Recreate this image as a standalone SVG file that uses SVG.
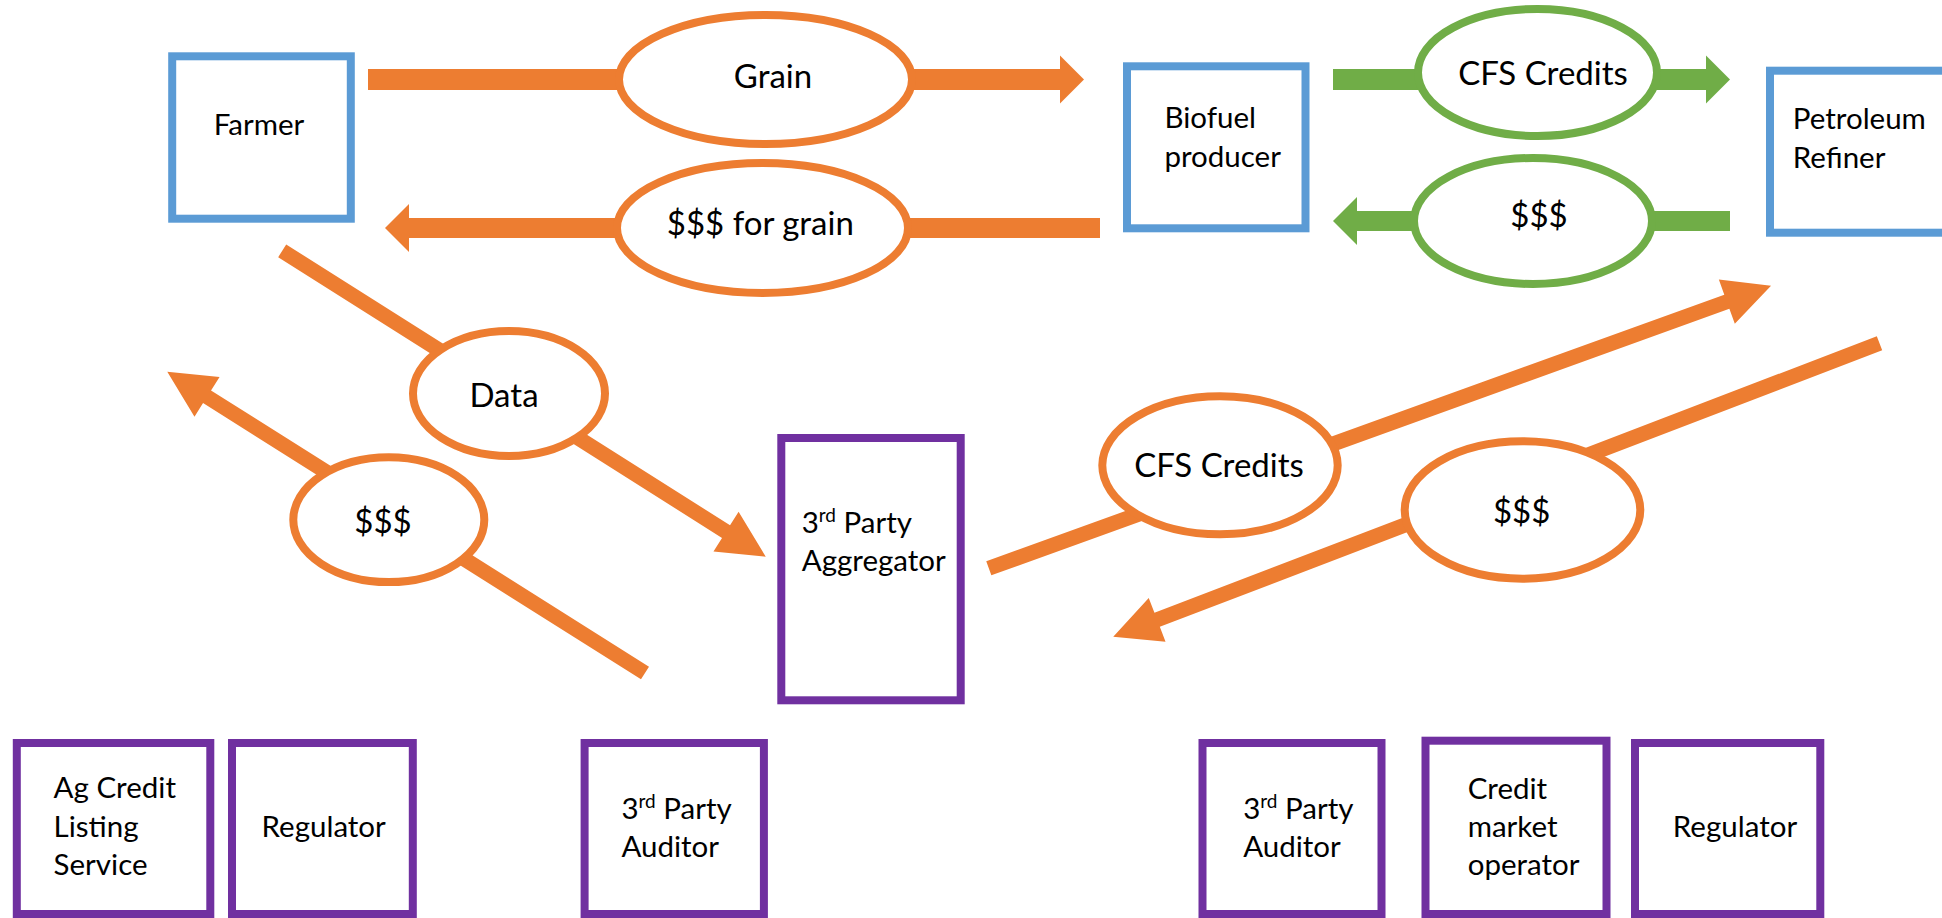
<svg xmlns="http://www.w3.org/2000/svg" width="1942" height="918" viewBox="0 0 1942 918">
<style>
.bg{fill:#ffffff}
.box{fill:#ffffff;stroke-width:8}
.blue{stroke:#5B9BD5}
.purple{stroke:#7030A0}
.oell{fill:#ffffff;stroke:#ED7D31;stroke-width:8}
.gell{fill:#ffffff;stroke:#70AD47;stroke-width:8}
.oarr{fill:#ED7D31}
.garr{fill:#70AD47}
text{font-family:Lato,"Carlito","Liberation Sans",sans-serif;fill:#000000}
.bt{font-size:29.5px}
.et{font-size:33px;text-anchor:middle}
.mid{text-anchor:middle}
.sup{font-size:19px}
</style>
<rect class="bg" x="0" y="0" width="1942" height="918"/>

<g id="connectors">
  <!-- Grain: Farmer -> Biofuel -->
  <polygon class="oarr" points="368,69 1060,69 1060,55.5 1084,79.5 1060,103.5 1060,90 368,90"/>
  <!-- $$$ for grain: Biofuel -> Farmer -->
  <polygon class="oarr" points="1100,218 409,218 409,204 385,228 409,252 409,238 1100,238"/>
  <!-- CFS Credits: Biofuel -> Refiner -->
  <polygon class="garr" points="1333,69 1706,69 1706,55.5 1730,79.5 1706,103.5 1706,90 1333,90"/>
  <!-- $$$: Refiner -> Biofuel -->
  <polygon class="garr" points="1730,211 1357,211 1357,197 1333,221 1357,245 1357,231 1730,231"/>
  <!-- Data: Farmer -> Aggregator -->
  <polygon class="oarr" transform="translate(282.2,250.8) rotate(32.32)" points="0,-7.5 525.2,-7.5 525.2,-23.5 572.2,0 525.2,23.5 525.2,7.5 0,7.5"/>
  <!-- $$$: Aggregator -> Farmer -->
  <polygon class="oarr" transform="translate(645,673) rotate(212.24)" points="0,-7.5 517.8,-7.5 517.8,-23.5 564.8,0 517.8,23.5 517.8,7.5 0,7.5"/>
  <!-- CFS Credits: Aggregator -> Refiner -->
  <polygon class="oarr" transform="translate(988.8,568.3) rotate(-19.86)" points="0,-7.5 784.7,-7.5 784.7,-23.5 831.7,0 784.7,23.5 784.7,7.5 0,7.5"/>
  <!-- $$$: Refiner -> Aggregator -->
  <polygon class="oarr" transform="translate(1879.5,343.3) rotate(159.05)" points="0,-7.5 773.5,-7.5 773.5,-23.5 820.5,0 773.5,23.5 773.5,7.5 0,7.5"/>
</g>

<g id="label-grain">
  <ellipse class="oell" cx="765.5" cy="79.5" rx="146.5" ry="64.5"/>
  <text class="et" x="773" y="88.3">Grain</text>
</g>
<g id="label-money-grain">
  <ellipse class="oell" cx="762.5" cy="228" rx="145.5" ry="65"/>
  <text class="et" x="760.3" y="235">$$$ for grain</text>
</g>
<g id="label-cfs-top">
  <ellipse class="gell" cx="1537.5" cy="72.5" rx="119.5" ry="63.5"/>
  <text class="et" x="1543" y="85">CFS Credits</text>
</g>
<g id="label-money-top">
  <ellipse class="gell" cx="1533" cy="221" rx="119" ry="63"/>
  <text class="et" x="1539" y="227">$$$</text>
</g>
<g id="label-data">
  <ellipse class="oell" cx="509" cy="393.5" rx="96" ry="62.5"/>
  <text class="et" x="504" y="407">Data</text>
</g>
<g id="label-money-left">
  <ellipse class="oell" cx="388.8" cy="519.7" rx="95.5" ry="62.4"/>
  <text class="et" x="383" y="533">$$$</text>
</g>
<g id="label-cfs-diag">
  <ellipse class="oell" cx="1220" cy="465.3" rx="117.7" ry="69"/>
  <text class="et" x="1219" y="476.7">CFS Credits</text>
</g>
<g id="label-money-right">
  <ellipse class="oell" cx="1522.5" cy="510" rx="117.8" ry="68.7"/>
  <text class="et" x="1521.7" y="523">$$$</text>
</g>

<g id="farmer">
  <rect class="box blue" x="172.2" y="56.3" width="178.6" height="162.4"/>
  <text class="bt mid" x="259" y="135">Farmer</text>
</g>
<g id="biofuel-producer">
  <rect class="box blue" x="1127" y="66.3" width="178.5" height="162"/>
  <text class="bt" x="1164.4" y="128.3">Biofuel</text>
  <text class="bt" x="1164.4" y="166.7">producer</text>
</g>
<g id="petroleum-refiner">
  <rect class="box blue" x="1770" y="70.7" width="178.5" height="162"/>
  <text class="bt" x="1792.8" y="129.3">Petroleum</text>
  <text class="bt" x="1792.8" y="167.7">Refiner</text>
</g>
<g id="aggregator">
  <rect class="box purple" x="781.3" y="438" width="179.4" height="262.3"/>
  <text class="bt" x="801.7" y="532.7">3<tspan class="sup" dy="-11">rd</tspan><tspan dy="11"> Party</tspan></text>
  <text class="bt" x="801.7" y="570.7">Aggregator</text>
</g>

<g id="ag-credit-listing">
  <rect class="box purple" x="16.8" y="743" width="193.5" height="171"/>
  <text class="bt" x="53.6" y="798.3">Ag Credit</text>
  <text class="bt" x="53.6" y="836.7">Listing</text>
  <text class="bt" x="53.6" y="875">Service</text>
</g>
<g id="regulator-left">
  <rect class="box purple" x="232" y="743" width="180.8" height="171"/>
  <text class="bt mid" x="323.7" y="837.3">Regulator</text>
</g>
<g id="auditor-left">
  <rect class="box purple" x="584.6" y="743" width="179.3" height="171"/>
  <text class="bt" x="621.4" y="819">3<tspan class="sup" dy="-11">rd</tspan><tspan dy="11"> Party</tspan></text>
  <text class="bt" x="621.4" y="857.3">Auditor</text>
</g>
<g id="auditor-right">
  <rect class="box purple" x="1202.5" y="743" width="179" height="171"/>
  <text class="bt" x="1243.2" y="819">3<tspan class="sup" dy="-11">rd</tspan><tspan dy="11"> Party</tspan></text>
  <text class="bt" x="1243.2" y="856.7">Auditor</text>
</g>
<g id="credit-market-operator">
  <rect class="box purple" x="1425.5" y="740.7" width="181" height="173.3"/>
  <text class="bt" x="1467.7" y="799">Credit</text>
  <text class="bt" x="1467.7" y="836.7">market</text>
  <text class="bt" x="1467.7" y="875">operator</text>
</g>
<g id="regulator-right">
  <rect class="box purple" x="1635" y="743" width="185.3" height="171"/>
  <text class="bt mid" x="1735" y="837.3">Regulator</text>
</g>
</svg>
